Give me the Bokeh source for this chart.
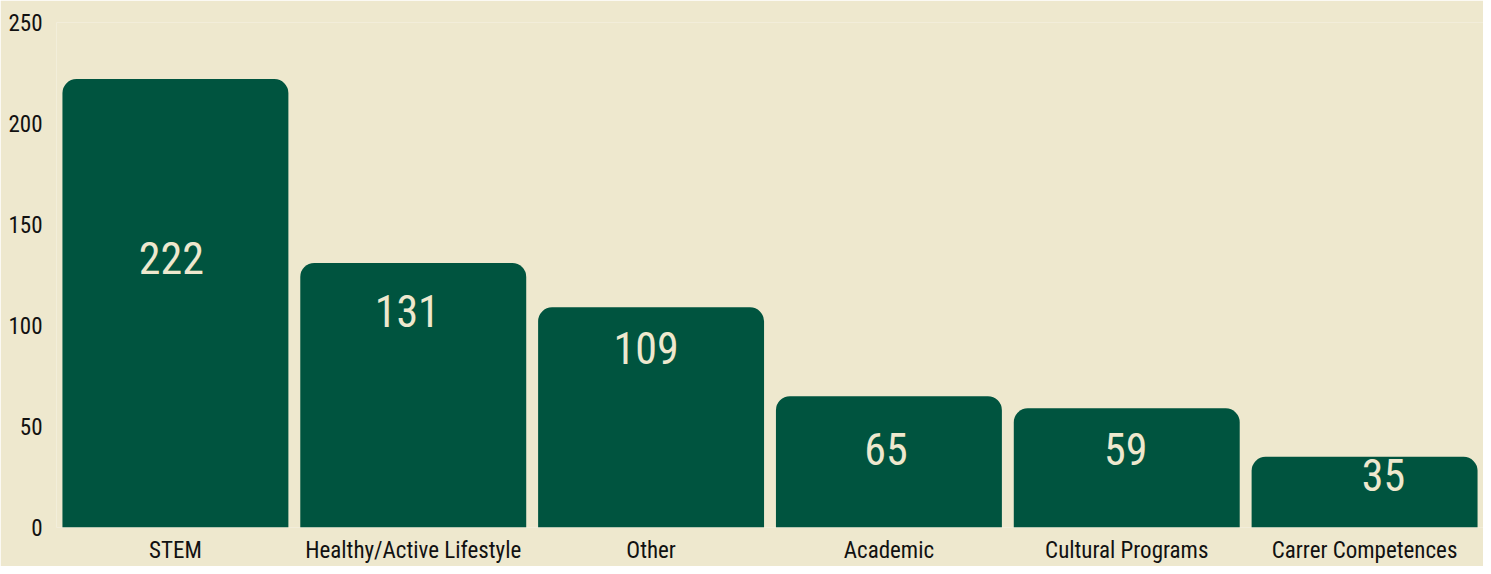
from bokeh.plotting import figure
from bokeh.models import ColumnDataSource, Range1d, FactorRange, FixedTicker
from bokeh.core.properties import value
from bokeh.embed import file_html
from bokeh.resources import INLINE

categories = ["STEM", "Healthy/Active Lifestyle", "Other", "Academic",
              "Cultural Programs", "Carrer Competences"]
counts = [222, 131, 109, 65, 59, 35]
y_ticks = [0, 50, 100, 150, 200, 250]

BG = "#EEE8CE"
BAR = "#00543F"
FONT = "'Roboto Condensed', 'Liberation Sans Narrow', 'DejaVu Sans Condensed', Roboto"

# label anchor as fraction of bar height (layout, mimics reference placement)
label_frac = [0.60, 0.82, 0.815, 0.60, 0.66, 0.74]
label_dx = [-4, -6, -5, -3, -1, 19]

src = ColumnDataSource(dict(
    cat=categories,
    val=counts,
    lab=[str(v) for v in counts],
    ly=[v * f for v, f in zip(counts, label_frac)],
    dx=label_dx,
))

p = figure(x_range=FactorRange(*categories, range_padding=0.0),
           y_range=Range1d(0, 250),
           width=1483, height=566,
           output_backend="svg", toolbar_location=None,
           background_fill_color=BG, border_fill_color=BG,
           min_border_left=56, min_border_right=0,
           min_border_top=22, min_border_bottom=30)
p.outline_line_color = None
p.xgrid.visible = False
p.ygrid.visible = False

p.vbar(x="cat", top="val", width=0.95, source=src, fill_color=BAR,
       line_color=None, border_radius=(14, 14, 0, 0))

p.text(x="cat", y="ly", text="lab", source=src, x_offset="dx",
       text_align="center", text_baseline="middle",
       text_font=value(FONT), text_font_size="44px", text_color=BG)

p.yaxis.ticker = FixedTicker(ticks=y_ticks)
for ax in (p.xaxis[0], p.yaxis[0]):
    ax.axis_line_color = None
    ax.major_tick_line_color = None
    ax.minor_tick_line_color = None
    ax.major_label_text_font = FONT
    ax.major_label_text_font_size = "23px"
    ax.major_label_text_color = "#111111"
p.xaxis.major_label_standoff = 3
p.yaxis.major_label_standoff = 8

open("out.html", "w").write(file_html(p, INLINE))
